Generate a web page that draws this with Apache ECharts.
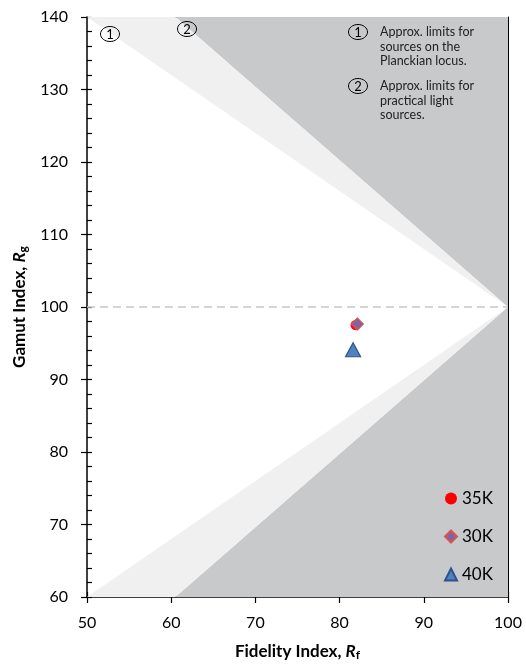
<!DOCTYPE html>
<html>
<head>
<meta charset="utf-8">
<script src="https://cdn.jsdelivr.net/npm/echarts@6/dist/echarts.min.js"></script>
<style>
html,body{margin:0;padding:0;background:#fff;}
#chart{width:526px;height:666px;}
</style>
</head>
<body>
<div id="chart"></div>
<script>
// ---- data ----
const seriesNames = ['35K', '30K', '40K'];
const points35K = [[81.9, 97.5]];
const points30K = [[82.1, 97.65]];
const points40K = [[81.6, 94.1]];
const referenceLine = [[50, 100], [100, 100]];
// approx. limits (1) Planckian locus and (2) practical light sources
const planckUpper = [[50, 140], [60.5, 140], [100, 100]];
const planckLower = [[50, 60], [60.5, 60], [100, 100]];
const practicalOutside = [[60.5, 140], [100, 140], [100, 60], [60.5, 60], [100, 100]];
const note1 = ['Approx. limits for', 'sources on the', 'Planckian locus.'];
const note2 = ['Approx. limits for', 'practical light', 'sources.'];

const FONT = 'Lato';

function polygonSeries(pts, color) {
  return {
    type: 'custom', xAxisIndex: 0, yAxisIndex: 0, silent: true, z: 1,
    data: [0],
    renderItem: function (params, api) {
      return {
        type: 'polygon',
        shape: { points: pts.map(p => api.coord(p)) },
        style: { fill: color }
      };
    }
  };
}

const chart = echarts.init(document.getElementById('chart'));
const axisLineStyle = { color: '#000', width: 1.5 };
const tickStyle = { color: '#000', width: 1.2 };
const richName = {
  b: { fontFamily: FONT, fontWeight: 'bold', fontSize: 17, color: '#000' },
  i: { fontFamily: FONT, fontWeight: 'bold', fontStyle: 'italic', fontSize: 17, color: '#000' },
  s: { fontFamily: FONT, fontWeight: 'bold', fontSize: 12, color: '#000', verticalAlign: 'bottom', padding: [7, 0, 0, 0] }
};

function ellipseMark(cx, cy, label) {
  return [
    { type: 'ellipse', shape: { cx: cx, cy: cy, rx: 9.5, ry: 7.5 }, style: { fill: 'transparent', stroke: '#000', lineWidth: 1 }, z: 100 },
    { type: 'text', x: cx, y: cy + 0.5, z: 101, style: { text: label, fontSize: 13, fontFamily: FONT, fill: '#000', align: 'center', verticalAlign: 'middle', textAlign: 'center', textVerticalAlign: 'middle' } }
  ];
}
function noteText(x, y, lines) {
  return { type: 'text', x: x, y: y, z: 101, style: { text: lines.join('\n'), fontSize: 12.5, fontFamily: FONT, fill: '#222', lineHeight: 14.5, align: 'left', verticalAlign: 'top', textAlign: 'left', textVerticalAlign: 'top' } };
}

const option = {
  backgroundColor: '#fff',
  animation: false,
  grid: { left: 87, right: 18, top: 17, bottom: 69, containLabel: false },
  xAxis: [
    {
      type: 'value', min: 50, max: 100, interval: 10, position: 'bottom',
      name: '{b|Fidelity Index, }{i|R}{s|f}', nameLocation: 'middle', nameGap: 45,
      nameTextStyle: { rich: richName },
      axisLine: { show: true, lineStyle: axisLineStyle },
      axisTick: { show: true, length: 6, lineStyle: tickStyle },
      axisLabel: { color: '#000', fontSize: 16, fontFamily: FONT, margin: 18 },
      splitLine: { show: false }
    },
    {
      type: 'value', min: 50, max: 100, interval: 2, position: 'bottom',
      axisLine: { show: false },
      axisTick: { show: true, inside: true, length: 5, lineStyle: tickStyle },
      axisLabel: { show: false }, splitLine: { show: false }
    },
    {
      type: 'value', min: 50, max: 100, position: 'top',
      axisLine: { show: true, onZero: false, lineStyle: { color: '#000', width: 1 } },
      axisTick: { show: false }, axisLabel: { show: false }, splitLine: { show: false }
    }
  ],
  yAxis: [
    {
      type: 'value', min: 60, max: 140, interval: 10, position: 'left',
      name: '{b|Gamut Index, }{i|R}{s|g}', nameLocation: 'middle', nameGap: 56,
      nameTextStyle: { rich: richName },
      axisLine: { show: true, lineStyle: axisLineStyle },
      axisTick: { show: true, length: 6, lineStyle: tickStyle },
      axisLabel: { color: '#000', fontSize: 16, fontFamily: FONT, margin: 19 },
      splitLine: { show: false }
    },
    {
      type: 'value', min: 60, max: 140, interval: 2, position: 'left',
      axisLine: { show: false },
      axisTick: { show: true, inside: true, length: 5, lineStyle: tickStyle },
      axisLabel: { show: false }, splitLine: { show: false }
    },
    {
      type: 'value', min: 60, max: 140, position: 'right',
      axisLine: { show: true, onZero: false, lineStyle: { color: '#000', width: 1 } },
      axisTick: { show: false }, axisLabel: { show: false }, splitLine: { show: false }
    }
  ],
  legend: {
    data: seriesNames, orient: 'vertical', left: 439, top: 485,
    itemWidth: 12, itemHeight: 12, itemGap: 21,
    textStyle: { fontSize: 17, fontFamily: FONT, color: '#000', lineHeight: 17 },
    selectedMode: false
  },
  graphic: [].concat(
    ellipseMark(110, 34, '1'),
    ellipseMark(187, 29, '2'),
    ellipseMark(358, 32, '1'),
    ellipseMark(358, 86, '2'),
    [noteText(380, 25, note1), noteText(380, 79, note2)]
  ),
  series: [
    polygonSeries(practicalOutside, '#c8c9cb'),
    polygonSeries(planckUpper, '#f0f0f0'),
    polygonSeries(planckLower, '#f0f0f0'),
    {
      type: 'line', xAxisIndex: 0, yAxisIndex: 0, data: referenceLine, symbol: 'none', silent: true, z: 2,
      lineStyle: { color: '#c8c8c8', width: 1.5, type: [8, 5] }
    },
    {
      name: '35K', type: 'scatter', xAxisIndex: 0, yAxisIndex: 0, data: points35K, z: 5,
      symbol: 'circle', symbolSize: 10, itemStyle: { color: '#ff0000', opacity: 1 }
    },
    {
      name: '30K', type: 'scatter', xAxisIndex: 0, yAxisIndex: 0, data: points30K, z: 6,
      symbol: 'diamond', symbolSize: 12, itemStyle: { color: '#8064a2', borderColor: '#d9534f', borderWidth: 1.2, opacity: 1 }
    },
    {
      name: '40K', type: 'scatter', xAxisIndex: 0, yAxisIndex: 0, data: points40K, z: 7,
      symbol: 'triangle', symbolSize: [15, 14], itemStyle: { color: '#4f81bd', borderColor: '#2f528f', borderWidth: 1.2, opacity: 1 }
    }
  ]
};
chart.setOption(option);
</script>
</body>
</html>
